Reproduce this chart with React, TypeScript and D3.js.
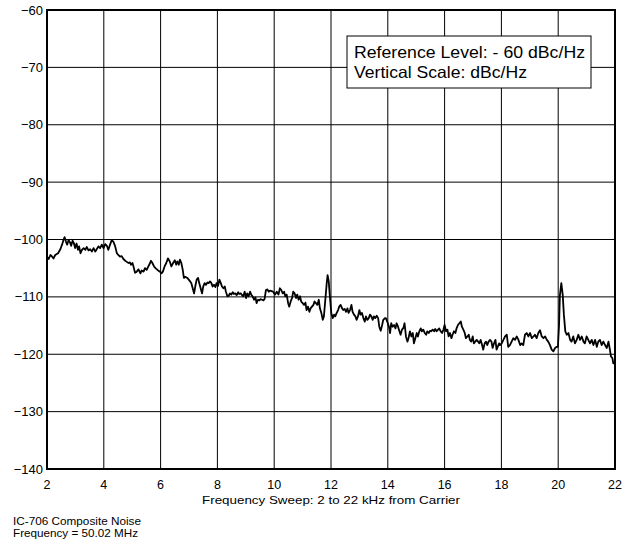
import React from "react";
import * as d3 from "d3";

const freqs: number[] = [
  2.00, 2.06, 2.12, 2.18, 2.23, 2.29, 2.39, 2.47, 2.53, 2.58, 2.62, 2.67, 2.71, 2.76, 2.81, 2.85, 2.90, 2.95, 2.99, 3.04,
  3.09, 3.13, 3.18, 3.23, 3.29, 3.35, 3.40, 3.46, 3.52, 3.58, 3.64, 3.70, 3.75, 3.81, 3.87, 3.93, 3.99, 4.05, 4.11, 4.16,
  4.22, 4.28, 4.34, 4.40, 4.46, 4.51, 4.57, 4.63, 4.69, 4.75, 4.81, 4.87, 4.92, 4.96, 5.01, 5.04, 5.10, 5.16, 5.22, 5.29,
  5.33, 5.40, 5.45, 5.51, 5.57, 5.63, 5.66, 5.71, 5.77, 5.82, 5.89, 5.98,
  6.03, 6.08, 6.14, 6.20, 6.26, 6.32, 6.38, 6.44, 6.50, 6.55, 6.59, 6.64, 6.68, 6.73, 6.78, 6.82, 6.87, 6.94, 6.99, 7.04,
  7.08, 7.13, 7.18, 7.22, 7.27, 7.32, 7.36, 7.41, 7.46, 7.50, 7.55, 7.60, 7.65, 7.69, 7.74, 7.79, 7.83, 7.88, 7.93, 7.97,
  8.02, 8.07, 8.12, 8.16, 8.21, 8.26, 8.30, 8.35, 8.40, 8.44, 8.49, 8.54, 8.58, 8.63, 8.68, 8.73, 8.77, 8.82, 8.87, 8.91,
  8.96, 9.01, 9.05, 9.10, 9.15, 9.20, 9.24, 9.29, 9.34, 9.38, 9.43, 9.48, 9.52, 9.57, 9.62, 9.66, 9.71, 9.76, 9.81, 9.85, 9.96,
  10.03, 10.09, 10.15, 10.20, 10.25, 10.30, 10.35, 10.39, 10.44, 10.49, 10.53, 10.58, 10.63, 10.67, 10.72, 10.77, 10.81, 10.86, 10.91, 10.95,
  11.00, 11.05, 11.10, 11.14, 11.19, 11.24, 11.28, 11.33, 11.38, 11.42, 11.47, 11.52, 11.57, 11.61, 11.66, 11.71, 11.75, 11.80, 11.85, 11.88,
  11.92, 11.96, 12.01, 12.06, 12.11, 12.15, 12.20, 12.25, 12.29, 12.34, 12.39, 12.43, 12.48, 12.53, 12.58, 12.62, 12.67, 12.72, 12.76, 12.81,
  12.86, 12.90, 12.95, 13.00, 13.04, 13.09, 13.14, 13.19, 13.23, 13.28, 13.33, 13.37, 13.42, 13.47, 13.51, 13.56, 13.61, 13.66, 13.70, 13.75,
  13.80, 13.84, 13.90,
  13.93, 13.98, 14.04, 14.08, 14.12, 14.17, 14.22, 14.27, 14.31, 14.36, 14.41, 14.45, 14.50, 14.55, 14.59, 14.64, 14.69, 14.73, 14.78, 14.83,
  14.88, 14.92, 14.97, 15.02, 15.06, 15.11, 15.16, 15.20, 15.25, 15.30, 15.35, 15.39, 15.44, 15.49, 15.53, 15.58, 15.63, 15.67, 15.72, 15.77,
  15.81, 15.86, 15.91, 15.96, 16.00, 16.05, 16.10, 16.14, 16.19, 16.24, 16.28, 16.33, 16.38, 16.42, 16.47, 16.52, 16.57, 16.61, 16.66, 16.71,
  16.75, 16.80, 16.85, 16.89, 16.94, 16.99, 17.03, 17.08, 17.13, 17.18, 17.22, 17.27, 17.32, 17.36, 17.41, 17.46, 17.50, 17.55, 17.60, 17.65,
  17.69, 17.74, 17.79, 17.83, 17.92,
  17.95, 18.01, 18.07, 18.13, 18.19, 18.24, 18.30, 18.36, 18.42, 18.48, 18.54, 18.60, 18.66, 18.71, 18.77, 18.83, 18.89, 18.95, 19.01, 19.07,
  19.13, 19.18, 19.24, 19.30, 19.36, 19.42, 19.48, 19.54, 19.60, 19.65, 19.71, 19.77, 19.83, 19.89, 19.95, 19.99, 20.03, 20.06, 20.11, 20.16,
  20.20, 20.25, 20.30, 20.36, 20.42, 20.47, 20.53, 20.59, 20.65, 20.71, 20.77, 20.83, 20.89, 20.94, 21.00, 21.06, 21.12, 21.18, 21.24, 21.30,
  21.36, 21.41, 21.47, 21.53, 21.59, 21.65, 21.71, 21.77, 21.82, 21.86, 21.91, 21.94, 21.98,
];

const noiseDb: number[] = [
  -103.0, -103.4, -102.7, -103.0, -103.3, -102.7, -102.4, -101.7, -100.9, -100.1, -99.6, -100.4, -100.9, -100.1, -100.5, -101.1, -100.2, -100.7, -101.5, -100.7,
  -101.8, -101.2, -102.4, -101.8, -101.5, -101.8, -101.3, -101.9, -101.7, -102.1, -101.5, -102.1, -101.7, -101.2, -101.5, -100.9, -101.5, -100.8, -101.1, -101.8,
  -100.9, -100.1, -100.4, -101.2, -102.4, -102.7, -103.0, -102.9, -103.4, -103.7, -103.9, -104.1, -104.0, -104.4, -104.1, -104.6, -105.8, -105.6, -105.2, -105.9,
  -105.4, -105.6, -105.0, -105.3, -104.7, -104.1, -103.7, -104.1, -104.7, -105.0, -105.3, -105.6,
  -105.9, -105.6, -104.7, -104.1, -103.3, -103.8, -104.7, -104.1, -103.6, -104.4, -103.8, -104.4, -103.5, -104.1, -105.3, -106.7, -106.5, -106.7, -107.0, -107.3,
  -107.6, -108.5, -109.4, -108.2, -107.0, -106.7, -107.6, -108.5, -109.4, -108.2, -107.6, -107.9, -107.5, -107.6, -107.3, -107.6, -108.2, -107.9, -108.3, -107.6,
  -108.1, -107.0, -107.6, -108.2, -108.5, -108.2, -109.1, -109.9, -109.8, -109.4, -109.6, -109.2, -109.5, -109.4, -109.7, -109.2, -109.5, -109.4, -109.7, -109.9,
  -109.1, -110.2, -109.4, -109.9, -109.1, -109.7, -109.9, -110.5, -110.1, -111.1, -110.5, -110.6, -110.4, -110.5, -110.6, -110.4, -108.8, -108.7, -109.1, -108.9, -109.1,
  -109.6, -109.1, -109.6, -108.5, -108.8, -109.4, -109.1, -109.9, -109.6, -111.1, -111.7, -110.8, -110.2, -109.1, -109.4, -110.2, -109.6, -110.5, -109.9, -110.8,
  -111.1, -111.4, -111.0, -112.3, -111.7, -112.6, -112.0, -111.7, -111.4, -110.8, -111.1, -111.4, -110.5, -112.0, -112.8, -114.0, -113.4, -110.5, -107.6, -106.2,
  -107.3, -109.9, -112.8, -113.7, -113.1, -113.4, -112.8, -112.3, -111.7, -111.4, -112.0, -112.3, -112.1, -112.6, -112.0, -112.8, -112.3, -111.4, -112.6, -113.1,
  -113.4, -114.0, -113.4, -112.3, -113.1, -112.8, -113.7, -114.3, -113.4, -114.0, -113.7, -113.1, -113.4, -114.0, -113.4, -113.7, -113.3, -113.7, -115.2, -115.9,
  -114.9, -114.0, -113.7,
  -113.7, -114.3, -115.2, -116.3, -114.6, -115.2, -114.9, -115.5, -114.6, -115.2, -116.0, -116.6, -115.7, -115.4, -114.6, -116.9, -117.8, -117.2, -116.0, -116.9,
  -116.3, -118.1, -117.2, -116.3, -116.9, -116.0, -115.5, -116.0, -115.7, -116.3, -116.6, -116.0, -116.3, -115.9, -116.0, -115.7, -116.0, -115.6, -116.0, -115.7,
  -115.5, -116.0, -116.3, -115.7, -114.9, -116.0, -115.7, -116.9, -116.3, -117.2, -116.6, -116.0, -116.3, -115.5, -114.9, -114.6, -114.3, -115.2, -115.7, -116.3,
  -117.2, -116.9, -116.6, -117.5, -117.8, -116.9, -118.1, -117.8, -117.5, -117.8, -118.1, -117.5, -118.4, -119.2, -118.1, -117.8, -118.4, -117.8, -117.5, -117.8,
  -118.9, -118.1, -117.5, -119.2, -118.1,
  -118.4, -118.1, -117.5, -116.9, -116.6, -118.7, -118.4, -117.8, -117.2, -117.5, -116.9, -117.5, -118.4, -118.1, -118.4, -116.6, -116.3, -116.9, -116.3, -117.2,
  -116.9, -116.6, -117.2, -116.3, -115.8, -116.9, -117.2, -116.9, -117.5, -117.8, -118.4, -119.2, -119.5, -118.9, -118.7, -118.7, -114.9, -109.7, -107.6, -109.7,
  -113.1, -116.0, -116.6, -116.3, -117.5, -117.8, -116.9, -118.1, -117.5, -116.6, -117.5, -116.9, -117.8, -118.1, -116.9, -117.5, -118.1, -117.5, -118.4, -117.5,
  -118.7, -117.8, -117.5, -118.4, -117.8, -118.4, -118.9, -117.8, -119.2, -120.4, -120.7, -121.6, -121.6,
];

const xTicks: number[] = [2, 4, 6, 8, 10, 12, 14, 16, 18, 20, 22];
const yTicks: number[] = [-60, -70, -80, -90, -100, -110, -120, -130, -140];
const xTitle = "Frequency Sweep: 2 to 22 kHz from Carrier";
const legendLines: string[] = ["Reference Level: - 60 dBc/Hz", "Vertical Scale: dBc/Hz"];
const legendWidths: number[] = [231, 173];
const footerLines: string[] = ["IC-706 Composite Noise", "Frequency = 50.02 MHz"];
const footerWidths: number[] = [128, 125];

const W = 637;
const H = 546;
const plot = { left: 47, right: 615, top: 10, bottom: 469 };
const FONT = "'Liberation Sans', Arial, Helvetica, sans-serif";

export default function App() {
  const x = d3.scaleLinear().domain([2, 22]).range([plot.left, plot.right]);
  const y = d3.scaleLinear().domain([-140, -60]).range([plot.bottom, plot.top]);
  const pts: [number, number][] = freqs.map((f, i) => [f, noiseDb[i]]);
  const line = d3
    .line<[number, number]>()
    .x((d) => x(d[0]))
    .y((d) => y(d[1]));

  return (
    <svg
      width={W}
      height={H}
      style={{ position: "absolute", left: 0, top: 0, background: "#fff" }}
      fontFamily={FONT}
    >
      <rect x={0} y={0} width={W} height={H} fill="#fff" />
      {xTicks.map((t) => (
        <line key={"gx" + t} x1={x(t)} x2={x(t)} y1={plot.top} y2={plot.bottom} stroke="#000" strokeWidth={1} />
      ))}
      {yTicks.map((t) => (
        <line key={"gy" + t} x1={plot.left} x2={plot.right} y1={y(t)} y2={y(t)} stroke="#000" strokeWidth={1} />
      ))}
      <path d={line(pts) || ""} fill="none" stroke="#000" strokeWidth={1.8} strokeLinejoin="round" />
      <rect
        x={plot.left}
        y={plot.top}
        width={plot.right - plot.left}
        height={plot.bottom - plot.top}
        fill="none"
        stroke="#000"
        strokeWidth={2}
      />
      <rect x={347} y={36} width={244} height={52} fill="#fff" stroke="#000" strokeWidth={1} />
      {legendLines.map((s, i) => (
        <text
          key={s}
          x={354}
          y={58 + i * 20}
          fontSize={16.5}
          fill="#000"
          textLength={legendWidths[i]}
          lengthAdjust="spacingAndGlyphs"
        >
          {s}
        </text>
      ))}
      {yTicks.map((t) => (
        <text key={"yl" + t} x={43} y={y(t) + 4.5} fontSize={13} textAnchor="end" fill="#000">
          {"\u2212" + Math.abs(t)}
        </text>
      ))}
      {xTicks.map((t) => (
        <text key={"xl" + t} x={x(t)} y={489} fontSize={12.5} textAnchor="middle" fill="#000">
          {t}
        </text>
      ))}
      <text
        x={(plot.left + plot.right) / 2}
        y={503.5}
        fontSize={11.5}
        textAnchor="middle"
        fill="#000"
        textLength={258}
        lengthAdjust="spacingAndGlyphs"
      >
        {xTitle}
      </text>
      {footerLines.map((s, i) => (
        <text
          key={s}
          x={13}
          y={525 + i * 12}
          fontSize={11}
          fill="#000"
          textLength={footerWidths[i]}
          lengthAdjust="spacingAndGlyphs"
        >
          {s}
        </text>
      ))}
    </svg>
  );
}
